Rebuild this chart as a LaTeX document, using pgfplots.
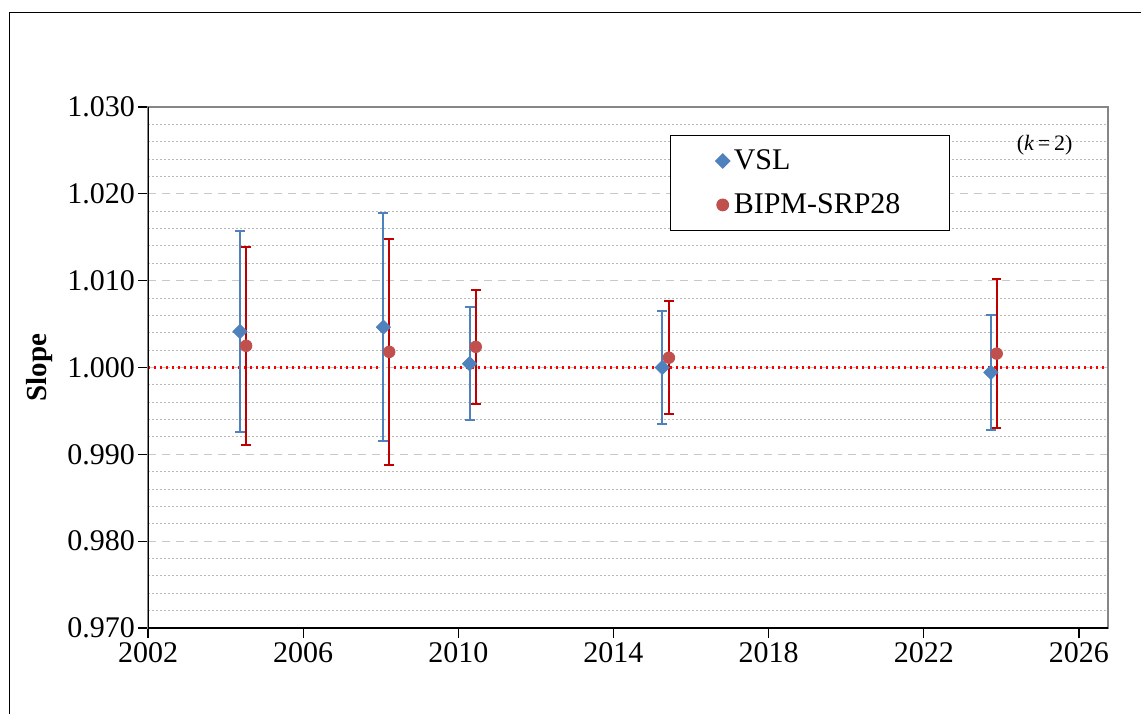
\documentclass[border=0pt]{standalone}
\usepackage{pgfplots}
\pgfplotsset{compat=1.18}
\usepackage{pgfplotstable}
\usepackage{fontspec}
\setmainfont{Liberation Serif}
\definecolor{vslblue}{RGB}{79,129,189}
\definecolor{bipmred}{RGB}{192,80,77}
\definecolor{barred}{RGB}{192,0,0}
\definecolor{bordergray}{RGB}{134,134,134}
\definecolor{majgrid}{RGB}{200,200,200}
\definecolor{mingrid}{RGB}{185,185,185}

\pgfplotsset{shortlegend/.style={legend image code/.code={\draw[mark repeat=2,mark phase=2,##1] plot coordinates {(0pt,0pt) (6pt,0pt) (12pt,0pt)};}}}

\pgfplotstableread{
x y e
2004.37 1.00415 0.0116
2008.07 1.00465 0.0131
2010.29 1.00044 0.0065
2015.26 1.00000 0.0065
2023.73 0.99943 0.0066
}\vsl

\pgfplotstableread{
x y e
2004.53 1.00250 0.0114
2008.22 1.00180 0.0130
2010.45 1.00238 0.0066
2015.43 1.00113 0.0065
2023.88 1.00160 0.0086
}\bipm

\begin{document}
\begin{tikzpicture}
\path[use as bounding box] (0,0) rectangle (570.5pt,356.5pt);
\draw[line width=0.7pt] (4.75pt,-1pt) -- (4.75pt,350.3pt) -- (572pt,350.3pt);
\begin{axis}[
  at={(74pt,42.5pt)}, anchor=south west,
  scale only axis, width=480pt, height=260.5pt,
  xmin=2002, xmax=2026.75,
  ymin=0.97, ymax=1.03,
  xtick={2002,2006,2010,2014,2018,2022,2026},
  ytick={0.97,0.98,0.99,1.00,1.01,1.02,1.03},
  minor y tick num=4,
  ymajorgrids, yminorgrids,
  major grid style={draw=majgrid, line width=0.6pt, dash pattern=on 4pt off 3pt},
  minor grid style={draw=mingrid, line width=0.5pt, dash pattern=on 1pt off 1pt},
  xtick pos=bottom, ytick pos=left,
  tick align=outside,
  major tick length=5pt, minor tick length=0pt,
  tick style={black, line width=0.6pt},
  axis line style={draw=bordergray, line width=1pt},
  tick label style={font=\fontsize{15}{17}\selectfont},
  /pgf/number format/assume math mode=true,
  xticklabel style={yshift=1.5pt, /pgf/number format/1000 sep={}},
  yticklabel style={xshift=2pt, /pgf/number format/.cd, fixed, fixed zerofill, precision=3},
  ylabel={\textbf{Slope}},
  ylabel style={at={(axis description cs:-0.1135,0.5)}, anchor=center, font=\fontsize{14.5}{17}\selectfont},
  legend style={at={(rel axis cs:0.5438,0.9463)}, anchor=north west, draw=black, line width=0.6pt,
    inner xsep=22.5pt, inner ysep=5pt, row sep=6.5pt,
    font=\fontsize{15}{17}\selectfont,
    nodes={inner xsep=2pt}},
  legend cell align=left,
]
\addplot[forget plot, color=red, line width=1.1pt, dash pattern=on 1pt off 2pt] coordinates {(2002,1) (2026.75,1)};

\addplot[only marks, mark=square*, mark size=2.5pt,
  mark options={rotate=45, fill=vslblue, draw=vslblue},
  shortlegend,
  error bars/.cd, y dir=both, y explicit,
  error bar style={line width=1pt, color=vslblue},
  error mark options={rotate=90, mark size=2.5pt, line width=1pt, color=vslblue}]
  table[x=x, y=y, y error=e] {\vsl};
\addlegendentry{VSL}

\addplot[only marks, mark=*, mark size=2.9pt,
  mark options={fill=bipmred, draw=bipmred},
  shortlegend,
  error bars/.cd, y dir=both, y explicit,
  error bar style={line width=1pt, color=barred},
  error mark options={rotate=90, mark size=2.4pt, line width=1pt, color=barred}]
  table[x=x, y=y, y error=e] {\bipm};
\addlegendentry{BIPM-SRP28}

\draw[black, line width=0.8pt] (rel axis cs:0,1) -- (rel axis cs:0,0) -- (rel axis cs:1,0);
\node[font=\fontsize{11}{13}\selectfont] at (rel axis cs:0.934,0.927) {(\textit{k}\,=\,2)};
\end{axis}
\end{tikzpicture}
\end{document}
